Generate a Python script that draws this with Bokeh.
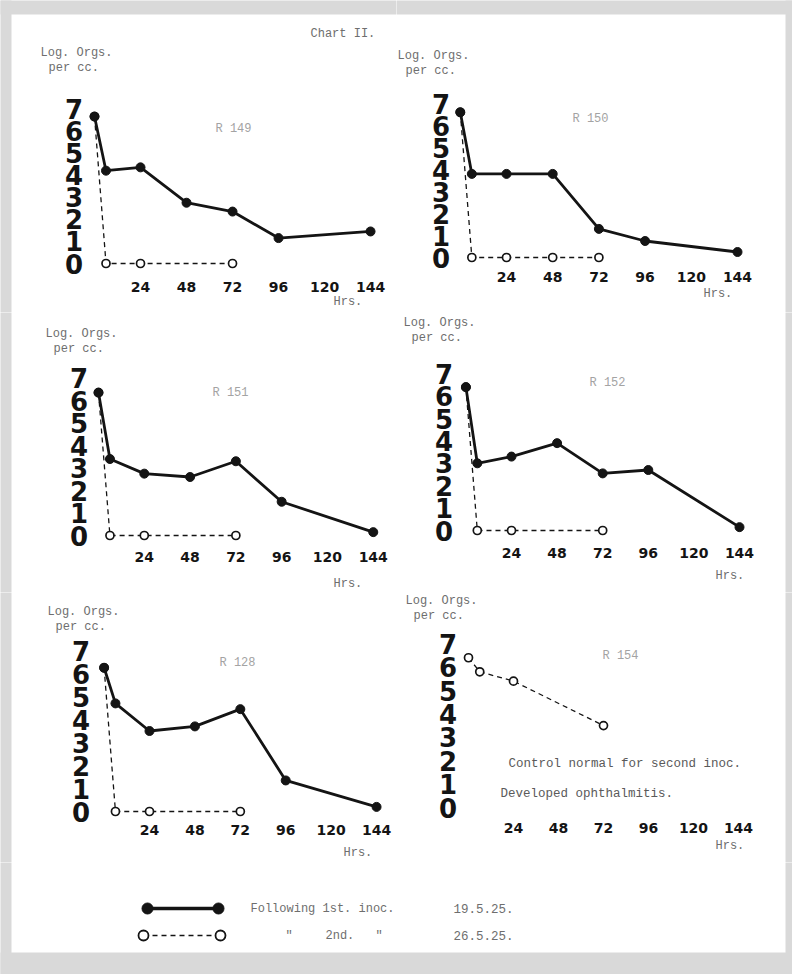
from bokeh.plotting import figure
from bokeh.layouts import column, row
from bokeh.models import Range1d, Label, FixedTicker, LinearAxis, BoxAnnotation
from bokeh.core.properties import value
from bokeh.embed import file_html
from bokeh.resources import INLINE

# ---------------- data ----------------
HOURS_FIRST = [0, 6, 24, 48, 72, 96, 144]
HOURS_SECOND = [0, 6, 24, 72]
HOURS_SECOND_R150 = [0, 6, 24, 48, 72]

R149_FIRST = [6.65, 4.2, 4.35, 2.75, 2.35, 1.15, 1.45]
R149_SECOND = [6.65, 0, 0, 0]
R150_FIRST = [6.6, 3.8, 3.8, 3.8, 1.3, 0.75, 0.25]
R150_SECOND = [6.6, 0, 0, 0, 0]
R151_FIRST = [6.35, 3.4, 2.75, 2.6, 3.3, 1.5, 0.15]
R151_SECOND = [6.35, 0, 0, 0]
R152_FIRST = [6.4, 3.0, 3.3, 3.9, 2.55, 2.7, 0.15]
R152_SECOND = [6.4, 0, 0, 0]
R128_FIRST = [6.25, 4.7, 3.5, 3.7, 4.45, 1.35, 0.2]
R128_SECOND = [6.25, 0, 0, 0]
R154_SECOND = [6.4, 5.8, 5.4, 3.5]

Y_TICKS = [0, 1, 2, 3, 4, 5, 6, 7]
X_TICKS = [24, 48, 72, 96, 120, 144]
X_TICK_LABELS = ["24", "48", "72", "96", "120", "144"]

PANEL_TITLES = ["R 149", "R 150", "R 151", "R 152", "R 128", "R 154"]
CHART_TITLE = "Chart II."
Y_TITLE = ["Log. Orgs.", "per cc."]
X_TITLE = "Hrs."
NOTES_R154 = ["Control normal for second inoc.", "Developed ophthalmitis."]
LEGEND_TEXT = ["Following 1st. inoc.", "2nd."]
LEGEND_DATES = ["19.5.25.", "26.5.25."]

# ---------------- layout / style ----------------
W = 396
PAGE_W, PAGE_H = 792, 974
ROW_TOP = [0, 312, 592]
ROW_H = [312, 280, 270]
LEG_TOP = 862
LEG_H = 112
SHEET = (11, 14, 785, 952)   # left, top, right, bottom of the scanned sheet
BLEED = 4                    # let the margin strips run past each cell edge
INK = "#141414"
TYPE_GREY = "#6e6e6e"
TITLE_GREY = "#a3a3a3"
SCAN_GREY = "#d9d9d9"
MONO = "Liberation Mono"

# page mapping per panel: (x of 0 h, px per h, y of value 0, px per unit),
# y-label centre x, x-label centre y, and text anchors (page px)
PANELS = [
    dict(first=(HOURS_FIRST, R149_FIRST), second=(HOURS_SECOND, R149_SECOND),
         m=(94, 1.917, 263, 22.1), ylab=73, xlab=287,
         logo=(40, 52), hrs=(333, 301), ttl=(233, 128)),
    dict(first=(HOURS_FIRST, R150_FIRST), second=(HOURS_SECOND_R150, R150_SECOND),
         m=(459.8, 1.925, 257, 22.0), ylab=440, xlab=277,
         logo=(397, 55), hrs=(703, 293), ttl=(590, 118)),
    dict(first=(HOURS_FIRST, R151_FIRST), second=(HOURS_SECOND, R151_SECOND),
         m=(98, 1.908, 535, 22.5), ylab=78, xlab=557,
         logo=(45, 333), hrs=(333, 583), ttl=(230, 392)),
    dict(first=(HOURS_FIRST, R152_FIRST), second=(HOURS_SECOND, R152_SECOND),
         m=(465.4, 1.90, 530, 22.4), ylab=443, xlab=553,
         logo=(403, 322), hrs=(715, 575), ttl=(607, 382)),
    dict(first=(HOURS_FIRST, R128_FIRST), second=(HOURS_SECOND, R128_SECOND),
         m=(103.6, 1.892, 811, 23.0), ylab=80, xlab=830,
         logo=(47, 611), hrs=(343, 852), ttl=(237, 662)),
    dict(first=None, second=(HOURS_SECOND, R154_SECOND),
         m=(468, 1.875, 807, 23.4), ylab=447, xlab=828,
         logo=(405, 600), hrs=(715, 845), ttl=(620, 655),
         notes=[(508, 763), (500, 793)]),
]


def px_to_x(m, px):
    return (px - m[0]) / m[1]


def py_to_y(m, py):
    return (m[2] - py) / m[3]


def add_text(p, m, page_xy, text, color, size, align="left"):
    p.add_layout(Label(x=px_to_x(m, page_xy[0]), y=py_to_y(m, page_xy[1]), text=text,
                       text_font=MONO, text_font_size=size, text_color=color,
                       text_align=align, text_baseline="middle"))


def scan_edges(p, m, cx, cy, w, h):
    """Grey scanner margin around the sheet, for the part inside this cell (page px)."""
    x0, x1, y0, y1 = cx - BLEED, cx + w + BLEED, cy - BLEED, cy + h + BLEED
    l, t, r, b = SHEET
    strips = [(x0, l, y0, y1),     # left
              (r, x1, y0, y1),     # right
              (x0, x1, y0, t),     # top
              (x0, x1, b, y1)]     # bottom
    for a, bb, c, d in strips:
        if min(bb, cx + w) > max(a, cx) and min(d, cy + h) > max(c, cy):
            p.add_layout(BoxAnnotation(left=px_to_x(m, a), right=px_to_x(m, bb),
                                       top=py_to_y(m, c), bottom=py_to_y(m, d),
                                       fill_color=SCAN_GREY, fill_alpha=1,
                                       line_color=None, line_alpha=0,
                                       level="underlay"))


def make_panel(i, spec, cellx, celly, H):
    m = spec["m"]
    p = figure(width=W, height=H, title=None,
               x_range=Range1d(px_to_x(m, cellx), px_to_x(m, cellx + W)),
               y_range=Range1d(py_to_y(m, celly + H), py_to_y(m, celly)),
               output_backend="svg", toolbar_location=None,
               x_axis_type=None, y_axis_type=None, min_border=0)
    p.outline_line_color = None
    p.grid.visible = False
    p.background_fill_color = "white"
    p.border_fill_color = "white"
    scan_edges(p, m, cellx, celly, W, H)

    xaxis = LinearAxis(ticker=FixedTicker(ticks=X_TICKS),
                       fixed_location=py_to_y(m, spec["xlab"] - 5.5),
                       major_label_overrides={t: s for t, s in zip(X_TICKS, X_TICK_LABELS)},
                       major_label_standoff=0)
    yaxis = LinearAxis(ticker=FixedTicker(ticks=Y_TICKS),
                       fixed_location=px_to_x(m, spec["ylab"] + 9.5),
                       major_label_standoff=0)
    for ax in (xaxis, yaxis):
        ax.axis_line_color = None
        ax.major_tick_line_color = None
        ax.minor_tick_line_color = None
        ax.major_tick_out = 0
        ax.major_tick_in = 0
        ax.major_label_text_color = INK
        ax.major_label_text_font = "DejaVu Sans"
        ax.major_label_text_font_style = "bold"
    yaxis.major_label_text_font_size = "26px"
    xaxis.major_label_text_font_size = "14px"
    p.add_layout(xaxis, "below")
    p.add_layout(yaxis, "left")

    # second inoculation: dashed line, open circles
    hx, hy = spec["second"]
    p.line(hx, hy, line_color=INK, line_width=1.3, line_dash="5 4")
    p.scatter(hx, hy, marker="circle", size=8, fill_color="white",
              line_color=INK, line_width=1.7)
    # first inoculation: heavy line, filled circles
    if spec["first"] is not None:
        fx, fy = spec["first"]
        p.line(fx, fy, line_color=INK, line_width=2.8)
        p.scatter(fx, fy, marker="circle", size=9, fill_color=INK, line_color=INK)

    lx, ly = spec["logo"]
    add_text(p, m, (lx, ly), Y_TITLE[0], TYPE_GREY, "12px")
    add_text(p, m, (lx + 8, ly + 15), Y_TITLE[1], TYPE_GREY, "12px")
    add_text(p, m, spec["hrs"], X_TITLE, TYPE_GREY, "12px")
    add_text(p, m, spec["ttl"], PANEL_TITLES[i], TITLE_GREY, "12px", align="center")
    if "notes" in spec:
        for (nx, ny), t in zip(spec["notes"], NOTES_R154):
            add_text(p, m, (nx, ny), t, "#5a5a5a", "12.5px")
    if i == 0:
        add_text(p, m, (310, 33), CHART_TITLE, TYPE_GREY, "12px")
    return p


rows = []
for r in range(3):
    pair = [make_panel(r * 2 + c, PANELS[r * 2 + c], c * W, ROW_TOP[r], ROW_H[r])
            for c in range(2)]
    rows.append(row(*pair))

# legend strip: page-pixel mapping (x of 0, 1 px/unit, y origin at strip top, y downward)
LM = (0, 1.0, LEG_TOP, -1.0)
leg = figure(width=PAGE_W, height=LEG_H, title=None,
             x_range=Range1d(0, PAGE_W), y_range=Range1d(LEG_H, 0),
             output_backend="svg", toolbar_location=None,
             min_border=0, x_axis_type=None, y_axis_type=None)
leg.outline_line_color = None
leg.grid.visible = False
leg.background_fill_color = "white"
leg.border_fill_color = "white"
scan_edges(leg, LM, 0, LEG_TOP, PAGE_W, LEG_H)
KEY_X1 = [147, 218]
KEY_X2 = [143, 220]
KEY_Y = [46, 73]
leg.line(KEY_X1, [KEY_Y[0]] * 2, line_color=INK, line_width=3.5)
leg.scatter(KEY_X1, [KEY_Y[0]] * 2, marker="circle", size=11, fill_color=INK, line_color=INK)
leg.line(KEY_X2, [KEY_Y[1]] * 2, line_color=INK, line_width=1.3, line_dash="5 4")
leg.scatter(KEY_X2, [KEY_Y[1]] * 2, marker="circle", size=10, fill_color="white",
            line_color=INK, line_width=1.8)
leg.text(x=[250, 325], y=KEY_Y, text=LEGEND_TEXT, text_font=value(MONO),
         text_font_size="12px", text_color=TYPE_GREY, text_baseline="middle")
leg.text(x=[285, 375], y=[KEY_Y[1]] * 2, text=['"', '"'], text_font=value(MONO),
         text_font_size="12px", text_color=TYPE_GREY, text_baseline="middle")
leg.text(x=[453, 453], y=KEY_Y, text=LEGEND_DATES, text_font=value(MONO),
         text_font_size="12.5px", text_color=TYPE_GREY, text_baseline="middle")

layout = column(*rows, leg)
open("out.html", "w").write(file_html(layout, INLINE))
